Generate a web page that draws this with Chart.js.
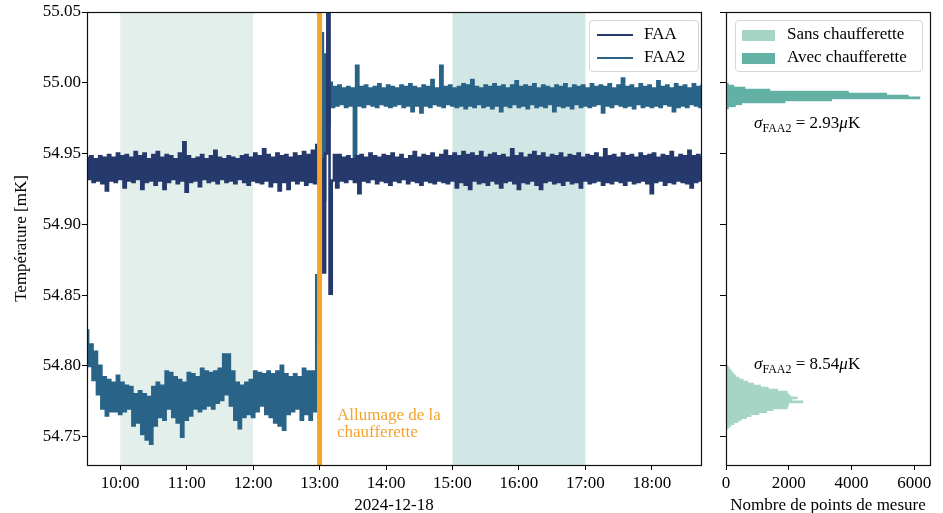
<!DOCTYPE html>
<html>
<head>
<meta charset="utf-8">
<script src="https://cdn.jsdelivr.net/npm/chart.js@4.4.0/dist/chart.umd.min.js"></script>
<style>
  body { margin: 0; background: #fff; }
  #wrap { position: relative; width: 943px; height: 513px; font-family: 'Liberation Serif', serif; font-size: 17px; color: #000; }
  .panel { position: absolute; top: 0; height: 513px; }
  #left { left: 0; width: 712px; }
  #right { left: 712px; width: 231px; }
  .legend { position: absolute; background: rgba(255,255,255,0.85); border: 1px solid #d6d6d6; border-radius: 4px; box-sizing: border-box; }
  .legend .row { position: absolute; left: 0; height: 20px; line-height: 20px; white-space: nowrap; }
  .legend .line { display: inline-block; width: 36px; height: 2.5px; margin: 0 11px 0 7px; vertical-align: middle; }
  .legend .patch { display: inline-block; width: 33px; height: 11px; margin: 0 12px 0 6px; vertical-align: middle; }
  .note { position: absolute; white-space: nowrap; line-height: 17px; }
  .note sub { font-size: 12px; }
</style>
</head>
<body>
<div id="wrap">
  <div class="panel" id="left"><canvas id="tempChart"></canvas></div>
  <div class="panel" id="right"><canvas id="histChart"></canvas></div>

  <div class="legend" style="left:589px;top:20px;width:110px;height:52px">
    <div class="row" style="top:3px"><span class="line" style="background:#26396c"></span>FAA</div>
    <div class="row" style="top:26px"><span class="line" style="background:#296388"></span>FAA2</div>
  </div>
  <div class="legend" style="left:735px;top:20px;width:188px;height:52px">
    <div class="row" style="top:3px"><span class="patch" style="background:#a7d5c5"></span>Sans chaufferette</div>
    <div class="row" style="top:26px"><span class="patch" style="background:#62b1a4"></span>Avec chaufferette</div>
  </div>

  <div class="note" style="left:337px;top:406px;color:#f5a330">Allumage de la<br>chaufferette</div>
  <div class="note" style="left:754px;top:114px"><i>σ</i><sub>FAA2</sub> = 2.93<i>μ</i>K</div>
  <div class="note" style="left:754px;top:355px"><i>σ</i><sub>FAA2</sub> = 8.54<i>μ</i>K</div>
</div>

<script>
// readings every 2 minutes from 09:30, in µK above 54.700 mK
const SAMPLE_START_H = 9.5;
const SAMPLE_STEP_MIN = 2;
const BASE_MK = 54.7;

const faaMicroK = [
  247,232,248,230,246,231,248,229,247,224,
  249,231,247,230,250,232,248,226,249,231,
  247,230,251,232,248,225,250,230,246,231,
  249,228,251,231,247,225,249,230,248,232,
  246,229,250,231,258,223,248,230,246,231,
  247,227,249,232,246,230,248,231,252,229,
  247,232,246,230,248,231,247,229,246,232,
  248,230,249,228,247,231,250,230,248,229,
  253,231,249,227,247,230,250,224,248,230,
  249,225,247,231,250,229,248,231,251,228,
  249,230,252,229,256,232,246,166,250,380,
  151,231,249,226,249,231,247,230,248,232,
  246,230,248,222,249,231,247,230,250,232,
  248,229,247,231,249,230,248,228,250,231,
  247,230,249,232,246,229,248,231,251,230,
  247,228,249,231,248,230,250,229,247,231,
  249,230,252,229,248,231,250,226,248,230,
  251,228,249,225,250,231,248,229,251,230,
  247,228,249,231,250,229,248,226,249,230,
  247,231,253,229,248,225,250,230,247,229,
  249,231,251,228,248,225,250,230,247,231,
  249,229,248,230,250,228,247,231,249,229,
  248,230,250,226,247,231,249,229,248,230,
  250,231,247,228,253,230,248,229,249,231,
  247,230,250,228,248,231,249,229,247,230,
  250,231,248,229,249,222,250,230,247,231,
  249,228,248,230,251,229,247,231,249,230,
  248,229,252,226,248,230,249,231,247,230
];

const faa2MicroK = [
  125,100,115,90,110,80,100,70,92,65,
  90,68,88,68,93,66,88,68,86,70,
  85,58,80,60,82,52,80,48,78,45,
  85,58,88,64,86,62,96,70,95,64,
  92,60,90,50,88,62,95,65,94,70,
  92,68,98,70,96,72,95,70,96,74,
  98,76,108,80,108,72,96,62,88,56,
  86,64,88,66,90,64,96,68,95,72,
  94,66,96,64,94,60,96,58,100,55,
  94,66,92,68,94,70,92,62,98,66,
  96,62,96,68,164,120,335,217,320,270,
  300,283,297,284,298,285,296,283,297,284,
  296,245,312,284,297,283,298,285,296,284,
  297,283,299,285,296,284,298,283,297,284,
  296,285,298,283,297,284,299,280,297,284,
  296,279,298,284,297,283,302,285,296,284,
  312,283,297,285,298,284,296,283,297,284,
  299,282,298,284,302,283,297,285,296,283,
  298,284,297,282,299,284,297,280,298,284,
  296,283,298,285,301,283,297,284,298,282,
  297,285,299,283,296,284,298,283,297,285,
  296,280,298,284,297,283,299,284,296,282,
  298,285,297,283,298,284,296,283,299,284,
  297,285,298,279,297,284,299,283,296,285,
  298,284,303,283,297,284,298,282,296,285,
  299,283,297,284,298,283,296,284,301,283,
  297,285,298,284,296,280,299,283,297,284,
  298,283,296,285,299,284,297,283,298,284
];

const hourTicks = [10, 11, 12, 13, 14, 15, 16, 17, 18];
const tempTicks = [54.75, 54.80, 54.85, 54.90, 54.95, 55.00, 55.05];
const countTicks = [0, 2000, 4000, 6000];

// reference windows used for the histograms, and heater switch-on time (hours)
const referenceSpans = [[10, 12], [15, 17]];
const heaterOnH = 13.0;

// FAA2 histograms: bin centres (mK) and counts
const sansBins = [54.7998, 54.7984, 54.7970, 54.7956, 54.7942, 54.7928, 54.7914, 54.7900,
  54.7886, 54.7872, 54.7858, 54.7844, 54.7830, 54.7816, 54.7802, 54.7788, 54.7774, 54.7760,
  54.7746, 54.7732, 54.7718, 54.7704, 54.7690, 54.7676, 54.7662, 54.7648, 54.7634, 54.7620,
  54.7606, 54.7592, 54.7578, 54.7564];
const sansCounts = [60, 100, 150, 200, 250, 320, 420, 550, 700, 880, 1100, 1350, 1650, 1950,
  1980, 2050, 2270, 2100, 2450, 2000, 1980, 1950, 1500, 1300, 1050, 800, 650, 480, 380, 250, 150, 80];
const avecBins = [54.9991, 54.9977, 54.9963, 54.9949, 54.9935, 54.9921, 54.9907, 54.9893,
  54.9879, 54.9865, 54.9851, 54.9837, 54.9823];
const avecCounts = [75, 250, 605, 1400, 3900, 5120, 5810, 6180, 3370, 1880, 500, 300, 75];

Chart.defaults.font.family = "'Liberation Serif', serif";
Chart.defaults.font.size = 17;
Chart.defaults.color = '#000';

const hoursAt = i => SAMPLE_START_H + i * SAMPLE_STEP_MIN / 60;
const toPoints = arr => arr.map((v, i) => ({ x: hoursAt(i), y: BASE_MK + v / 1000 }));

const spanColors = ['#e3efeb', '#d1e7e5'];

const decorPlugin = {
  id: 'decor',
  beforeDatasetsDraw(chart) {
    const { ctx, chartArea: a, scales: { x } } = chart;
    ctx.save();
    referenceSpans.forEach(([from, to], k) => {
      const x0 = x.getPixelForValue(from), x1 = x.getPixelForValue(to);
      ctx.fillStyle = spanColors[k];
      ctx.fillRect(x0, a.top, x1 - x0, a.bottom - a.top);
    });
    ctx.restore();
  },
  afterDatasetsDraw(chart) {
    const { ctx, chartArea: a, scales: { x } } = chart;
    const px = x.getPixelForValue(heaterOnH);
    ctx.save();
    ctx.strokeStyle = '#f7a42b';
    ctx.lineWidth = 5;
    ctx.beginPath();
    ctx.moveTo(px, a.top);
    ctx.lineTo(px, a.bottom);
    ctx.stroke();
    ctx.restore();
  }
};

const framePlugin = {
  id: 'frame',
  afterDraw(chart) {
    const { ctx, chartArea: a } = chart;
    ctx.save();
    ctx.strokeStyle = '#111';
    ctx.lineWidth = 1.2;
    ctx.strokeRect(Math.round(a.left) + 0.5, Math.round(a.top) + 0.5,
      Math.round(a.right - a.left), Math.round(a.bottom - a.top));
    ctx.restore();
  }
};

const tickGrid = len => ({ drawOnChartArea: false, drawTicks: true, tickLength: len, tickColor: '#000', offset: false });

// stepped 'middle' keeps the dense noise band solid between samples
const seriesStyle = { borderWidth: 2.6, pointRadius: 0, stepped: 'middle', clip: 0 };

new Chart(document.getElementById('tempChart'), {
  type: 'line',
  data: {
    datasets: [
      { label: 'FAA', data: toPoints(faaMicroK), borderColor: '#26396c', ...seriesStyle },
      { label: 'FAA2', data: toPoints(faa2MicroK), borderColor: '#296388', ...seriesStyle }
    ]
  },
  options: {
    responsive: true,
    maintainAspectRatio: false,
    animation: false,
    devicePixelRatio: 1,
    layout: { padding: { left: 0, top: 12, right: 11, bottom: 0 } },
    plugins: { legend: { display: false }, tooltip: { enabled: false } },
    scales: {
      x: {
        type: 'linear', min: 9.5, max: 18.74,
        afterBuildTicks: s => { s.ticks = hourTicks.map(v => ({ value: v })); },
        afterFit: s => { s.height = 48; },
        ticks: { padding: 3, maxRotation: 0, autoSkip: false, callback: v => v + ':00' },
        grid: tickGrid(5),
        border: { color: '#000' },
        title: { display: true, text: '2024-12-18', padding: { top: 0, bottom: -3 } }
      },
      y: {
        type: 'linear', min: 54.73, max: 55.05,
        afterBuildTicks: s => { s.ticks = tempTicks.map(v => ({ value: v })); },
        afterFit: s => { s.width = 87; },
        ticks: { padding: 1, callback: v => v.toFixed(2) },
        grid: tickGrid(5),
        border: { color: '#000' },
        title: { display: true, text: 'Température [mK]', padding: { top: 11, bottom: 0 } }
      }
    }
  },
  plugins: [decorPlugin, framePlugin]
});

const histData = (bins, counts) => bins.map((b, i) => ({ x: counts[i], y: b }));

new Chart(document.getElementById('histChart'), {
  type: 'bar',
  data: {
    datasets: [
      { label: 'Sans chaufferette', data: histData(sansBins, sansCounts), backgroundColor: '#a7d5c5',
        borderWidth: 0, grouped: false, barPercentage: 1, categoryPercentage: 1 },
      { label: 'Avec chaufferette', data: histData(avecBins, avecCounts), backgroundColor: '#62b1a4',
        borderWidth: 0, grouped: false, barPercentage: 1, categoryPercentage: 1 }
    ]
  },
  options: {
    indexAxis: 'y',
    responsive: true,
    maintainAspectRatio: false,
    animation: false,
    devicePixelRatio: 1,
    layout: { padding: { left: 0, top: 12, right: 13, bottom: 0 } },
    plugins: { legend: { display: false }, tooltip: { enabled: false } },
    scales: {
      x: {
        type: 'linear', min: 0, max: 6500,
        afterBuildTicks: s => { s.ticks = countTicks.map(v => ({ value: v })); },
        afterFit: s => { s.height = 48; },
        ticks: { padding: 3, maxRotation: 0, autoSkip: false, callback: v => String(v) },
        grid: tickGrid(5),
        border: { color: '#000' },
        title: { display: true, text: 'Nombre de points de mesure', padding: { top: 0, bottom: -3 } }
      },
      y: {
        type: 'linear', min: 54.73, max: 55.05, offset: false,
        afterBuildTicks: s => { s.ticks = tempTicks.map(v => ({ value: v })); },
        afterFit: s => { s.width = 14; },
        ticks: { display: false },
        grid: tickGrid(6),
        border: { color: '#000' }
      }
    }
  },
  plugins: [framePlugin]
});
</script>
</body>
</html>
